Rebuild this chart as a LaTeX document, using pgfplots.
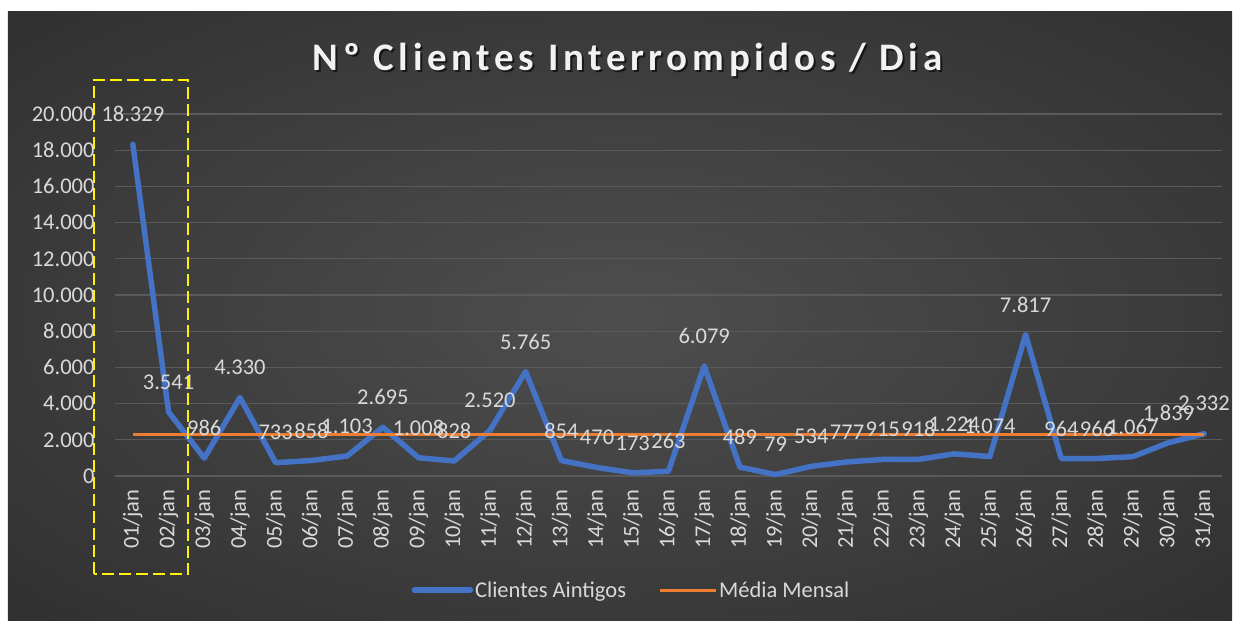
\documentclass[border=0pt]{standalone}
\usepackage{fontspec}
\setmainfont{Carlito}
\newfontfamily\titlefont[LetterSpace=12]{Carlito}
\usepackage{pgfplots}
\usepackage{pgfplotstable}
\pgfplotsset{compat=1.18}
\definecolor{cblue}{HTML}{4472C4}
\definecolor{corange}{HTML}{ED7D31}
\definecolor{textgray}{HTML}{D9D9D9}
\definecolor{gridgray}{HTML}{5A5A5A}
\definecolor{bgin}{RGB}{78,78,78}
\definecolor{bgout}{RGB}{36,36,36}
\pgfdeclareradialshading{bgrad}{\pgfpoint{0bp}{0bp}}{color(0bp)=(bgin); color(50bp)=(bgout)}

\pgfplotstableread{
x y
0 18329
1 3541
2 986
3 4330
4 733
5 858
6 1103
7 2695
8 1008
9 828
10 2520
11 5765
12 854
13 470
14 173
15 263
16 6079
17 489
18 79
19 534
20 777
21 915
22 918
23 1224
24 1074
25 7817
26 964
27 966
28 1067
29 1839
30 2332
}\datatable

\newcommand{\lblfont}{\fontsize{22.5bp}{26bp}\selectfont}

\begin{document}
\begin{tikzpicture}[x=1bp,y=1bp]
\begin{scope}[shift={(-115,-145)}]
\fill[white] (0,0) rectangle (1239,621);
\shade[shading=bgrad] (8,0) rectangle (1232,609);
\node[anchor=base, text=black, opacity=0.6, font=\titlefont\bfseries\fontsize{39bp}{42bp}\selectfont] at (629.5,548.5) {Nº Clientes Interrompidos / Dia};
\node[anchor=base, text=white!95!black, font=\titlefont\bfseries\fontsize{39bp}{42bp}\selectfont] at (627.5,550) {Nº Clientes Interrompidos / Dia};
\end{scope}
\begin{axis}[
  scale only axis, width=1107bp, height=362bp,
  xmin=-0.5, xmax=30.5, ymin=0, ymax=20000,
  clip=false,
  axis line style={draw=none},
  major tick length=0pt,
  ytick={0,2000,...,20000},
  ymajorgrids, grid style={color=gridgray, line width=1.2bp},
  xtick={0,...,30},
  xticklabels={01/jan,02/jan,03/jan,04/jan,05/jan,06/jan,07/jan,08/jan,09/jan,10/jan,11/jan,12/jan,13/jan,14/jan,15/jan,16/jan,17/jan,18/jan,19/jan,20/jan,21/jan,22/jan,23/jan,24/jan,25/jan,26/jan,27/jan,28/jan,29/jan,30/jan,31/jan},
  x tick label style={rotate=90, anchor=east, xshift=-10bp},
  y tick label style={xshift=-17bp},
  tick label style={text=textgray, font=\lblfont},
  scaled y ticks=false,
  /pgf/number format/.cd, 1000 sep={.}, fixed, precision=0, assume math mode=true,
  /pgfplots/.cd,
  legend columns=2,
  legend style={draw=none, fill=none, text=textgray, font=\lblfont,
    at={(0.4666,-0.315)}, anchor=center,
    /tikz/every even column/.append style={column sep=30bp}},
  legend image code/.code={\draw[#1] (0bp,0bp) -- (56bp,0bp);},
]
\addplot[cblue, line width=5.5bp, line join=round, line cap=round] table[x=x,y=y] {\datatable};
\addlegendentry{Clientes Aintigos}
\addplot[corange, line width=3bp] coordinates {(0,2307.4) (30,2307.4)};
\addlegendentry{Média Mensal}
\addplot[draw=none, forget plot, nodes near coords,
  every node near coord/.append style={anchor=center, yshift=30bp, text=textgray, font=\lblfont}]
  table[x=x,y=y] {\datatable};
\end{axis}
\begin{scope}[shift={(-115,-145)}]
\draw[yellow, line width=2bp, dash pattern=on 12bp off 5bp] (94,47) rectangle (188,541);
\end{scope}
\end{tikzpicture}
\end{document}
